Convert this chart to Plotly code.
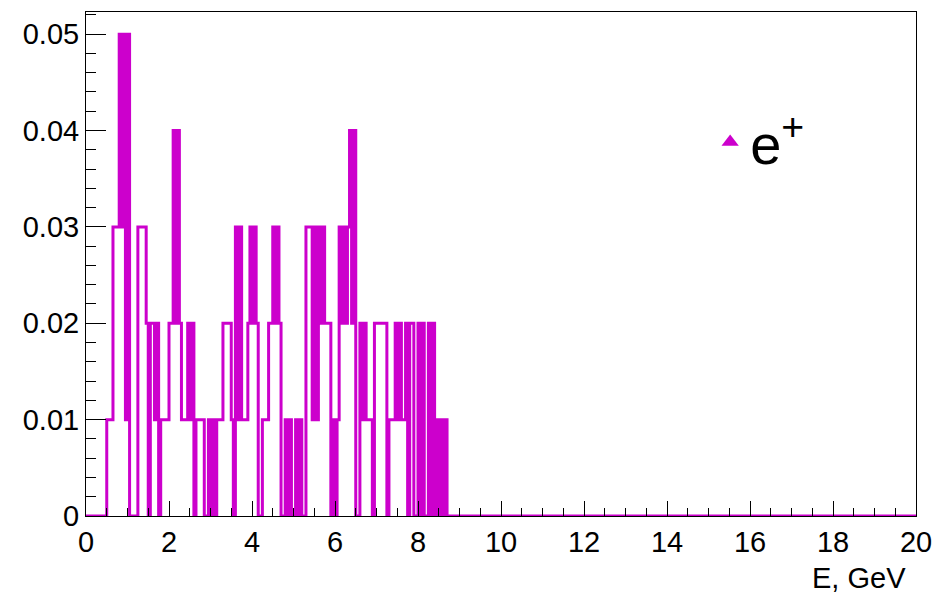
import numpy as np
import plotly.graph_objects as go

# histogram: bin width 0.05 GeV starting at 0, counts in units of 0.01
BIN_WIDTH = 0.05
X_MAX = 20.0
counts = [
    0, 0, 0, 0, 0, 0, 0, 0, 0, 0, 1, 1, 1, 3, 3, 3, 5, 3, 5, 1,
    5, 0, 0, 0, 0, 3, 3, 3, 3, 2, 0, 2, 2, 1, 2, 0, 1, 1, 1, 1,
    2, 2, 4, 2, 4, 2, 1, 1, 1, 2, 1, 2, 0, 1, 1, 1, 1, 0, 0, 1,
    0, 1, 0, 1, 1, 1, 2, 2, 2, 2, 1, 0, 3, 1, 3, 1, 1, 1, 2, 3,
    2, 3, 2, 0, 0, 1, 1, 1, 2, 2, 3, 2, 3, 2, 0, 0, 1, 0, 1, 0,
    0, 1, 0, 1, 0, 0, 3, 3, 3, 1, 3, 1, 3, 2, 3, 2, 2, 2, 0, 1,
    0, 1, 3, 2, 3, 2, 3, 4, 2, 4, 0, 0, 2, 1, 2, 1, 1, 1, 0, 2,
    2, 2, 2, 2, 2, 0, 1, 1, 1, 2, 1, 2, 1, 1, 2, 0, 2, 2, 0, 0,
    2, 0, 2, 0, 0, 2, 0, 2, 0, 1, 0, 1, 0, 1, 0, 0, 0, 0, 0, 0,
]
UNIT = 0.01
x_ticks = [0, 2, 4, 6, 8, 10, 12, 14, 16, 18, 20]
y_ticks = [0, 0.01, 0.02, 0.03, 0.04, 0.05]
y_labels = ["0", "0.01", "0.02", "0.03", "0.04", "0.05"]

COLOR = "#cc00cc"
FONT = "Liberation Sans, Arial, sans-serif"

vals = np.array(counts, dtype=float) * UNIT
edges = np.arange(len(counts) + 1) * BIN_WIDTH
xs = list(edges[:-1]) + [edges[-1], X_MAX]
ys = list(vals) + [0.0, 0.0]

fig = go.Figure()
fig.add_trace(go.Scatter(
    x=xs, y=ys, mode="lines", line=dict(color=COLOR, width=3, shape="hv"),
    showlegend=False, hoverinfo="skip"))
fig.add_trace(go.Scatter(
    x=[None], y=[None], mode="markers", name="e<sup>+</sup>",
    marker=dict(symbol="triangle-up", color=COLOR, size=15)))

fig.update_layout(
    width=932, height=600,
    margin=dict(l=86, r=16, t=12, b=84, autoexpand=False),
    paper_bgcolor="white", plot_bgcolor="white",
    font=dict(family=FONT, size=29, color="black"),
    legend=dict(x=0.752, y=0.742, xanchor="left", yanchor="middle",
                bgcolor="rgba(0,0,0,0)", font=dict(size=56, family=FONT),
                itemsizing="trace", tracegroupgap=0, itemwidth=30),
)
fig.update_xaxes(
    range=[0, X_MAX], tickvals=x_ticks, ticks="inside", ticklen=15,
    tickcolor="black", tickwidth=1, showline=True, linecolor="black",
    linewidth=1, mirror=True, showgrid=False, zeroline=False, automargin=False,
    ticklabeloverflow="allow",
    minor=dict(ticks="inside", ticklen=8, dtick=0.5, tickcolor="black",
               showgrid=False),
    tickfont=dict(size=29, family=FONT))
fig.update_yaxes(
    range=[0, 0.0523], tickvals=y_ticks, ticktext=y_labels,
    ticks="inside", ticklen=20,
    tickcolor="black", tickwidth=1, showline=True, linecolor="black",
    linewidth=1, mirror=True, showgrid=False, zeroline=False, automargin=False,
    ticklabeloverflow="allow",
    minor=dict(ticks="inside", ticklen=10, dtick=0.002, tickcolor="black",
               showgrid=False),
    tickfont=dict(size=29, family=FONT))

fig.add_annotation(text="E, GeV", xref="paper", yref="paper", x=0.99, y=-0.088,
                   xanchor="right", yanchor="top", showarrow=False,
                   font=dict(size=29, family=FONT))

fig.write_html("out.html")
